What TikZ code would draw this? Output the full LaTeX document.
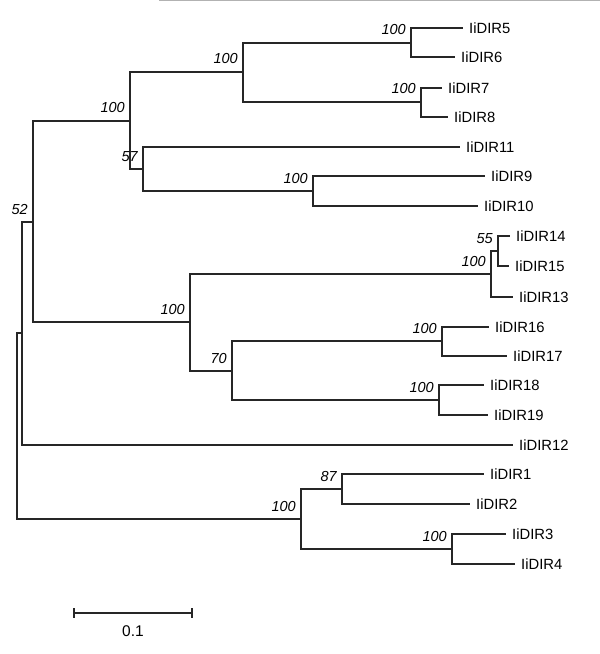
\documentclass[tikz,border=0pt]{standalone}
\usepackage{fontspec}
\setmainfont{Liberation Sans}
\begin{document}
\begin{tikzpicture}[x=1bp,y=-1bp,
  br/.style={draw=black!85,line width=1.2bp},
  leaf/.style={anchor=west,inner xsep=6bp,inner ysep=0pt,font=\fontsize{14.8bp}{17bp}\selectfont},
  boot/.style={anchor=base east,inner sep=0pt,font=\fontsize{14.5bp}{17bp}\selectfont\itshape}]
\useasboundingbox (0,0) rectangle (600,654);
\draw[draw=black!30,line width=1.5bp] (159,0.75) -- (600,0.75);
% leaves
\node[leaf] (l5) at (463,28) {IiDIR5};
\node[leaf] (l6) at (455,57) {IiDIR6};
\node[leaf] (l7) at (442,88) {IiDIR7};
\node[leaf] (l8) at (448,117) {IiDIR8};
\node[leaf] (l11) at (460,147) {IiDIR11};
\node[leaf] (l9) at (485,176) {IiDIR9};
\node[leaf] (l10) at (478,206) {IiDIR10};
\node[leaf] (l14) at (510,236) {IiDIR14};
\node[leaf] (l15) at (509,266) {IiDIR15};
\node[leaf] (l13) at (513,297) {IiDIR13};
\node[leaf] (l16) at (489,327) {IiDIR16};
\node[leaf] (l17) at (507,356) {IiDIR17};
\node[leaf] (l18) at (484,385) {IiDIR18};
\node[leaf] (l19) at (488,415) {IiDIR19};
\node[leaf] (l12) at (513,445) {IiDIR12};
\node[leaf] (l1) at (484,474) {IiDIR1};
\node[leaf] (l2) at (470,504) {IiDIR2};
\node[leaf] (l3) at (506,534) {IiDIR3};
\node[leaf] (l4) at (515,564) {IiDIR4};
% internal nodes
\coordinate (A) at (411,43);
\coordinate (B) at (421,102);
\coordinate (C) at (243,72);
\coordinate (F) at (313,191);
\coordinate (E) at (143,169);
\coordinate (D) at (130,121);
\coordinate (K) at (498,251);
\coordinate (J) at (491,274);
\coordinate (M) at (442,341);
\coordinate (N) at (439,400);
\coordinate (L) at (232,371);
\coordinate (I) at (190,322);
\coordinate (G) at (33,222);
\coordinate (H) at (22,333);
\coordinate (O) at (342,489);
\coordinate (Q) at (452,549);
\coordinate (P) at (301,519);
\coordinate (R) at (17,426);
% branches
\draw[br] (A) |- (l5); \draw[br] (A) |- (l6);
\draw[br] (B) |- (l7); \draw[br] (B) |- (l8);
\draw[br] (C) |- (A); \draw[br] (C) |- (B);
\draw[br] (F) |- (l9); \draw[br] (F) |- (l10);
\draw[br] (E) |- (l11); \draw[br] (E) |- (F);
\draw[br] (D) |- (C); \draw[br] (D) |- (E);
\draw[br] (K) |- (l14); \draw[br] (K) |- (l15);
\draw[br] (J) |- (K); \draw[br] (J) |- (l13);
\draw[br] (M) |- (l16); \draw[br] (M) |- (l17);
\draw[br] (N) |- (l18); \draw[br] (N) |- (l19);
\draw[br] (L) |- (M); \draw[br] (L) |- (N);
\draw[br] (I) |- (J); \draw[br] (I) |- (L);
\draw[br] (G) |- (D); \draw[br] (G) |- (I);
\draw[br] (H) |- (G); \draw[br] (H) |- (l12);
\draw[br] (O) |- (l1); \draw[br] (O) |- (l2);
\draw[br] (Q) |- (l3); \draw[br] (Q) |- (l4);
\draw[br] (P) |- (O); \draw[br] (P) |- (Q);
\draw[br] (R) |- (H); \draw[br] (R) |- (P);
% bootstrap values
\node[boot] (bA) at ([shift={(-5,-8)}]A) {100};
\node[boot] (bB) at ([shift={(-5,-8)}]B) {100};
\node[boot] (bC) at ([shift={(-5,-8)}]C) {100};
\node[boot] (bF) at ([shift={(-5,-8)}]F) {100};
\node[boot] (bE) at ([shift={(-5,-8)}]E) {57};
\node[boot] (bD) at ([shift={(-5,-8)}]D) {100};
\node[boot] (bK) at ([shift={(-5,-8)}]K) {55};
\node[boot] (bJ) at ([shift={(-5,-8)}]J) {100};
\node[boot] (bM) at ([shift={(-5,-8)}]M) {100};
\node[boot] (bN) at ([shift={(-5,-8)}]N) {100};
\node[boot] (bL) at ([shift={(-5,-8)}]L) {70};
\node[boot] (bI) at ([shift={(-5,-8)}]I) {100};
\node[boot] (bG) at ([shift={(-5,-8)}]G) {52};
\node[boot] (bO) at ([shift={(-5,-8)}]O) {87};
\node[boot] (bP) at ([shift={(-5,-8)}]P) {100};
\node[boot] (bQ) at ([shift={(-5,-8)}]Q) {100};
% scale bar
\coordinate (s1) at (74,613);
\coordinate (s2) at (192,613);
\draw[br] (s1) -- (s2);
\draw[br] ([yshift=-5]s1) -- ([yshift=5]s1);
\draw[br] ([yshift=-5]s2) -- ([yshift=5]s2);
\node[font=\fontsize{15.5bp}{18bp}\selectfont,inner sep=0pt] (sl) at (133,631) {0.1};
\end{tikzpicture}
\end{document}
